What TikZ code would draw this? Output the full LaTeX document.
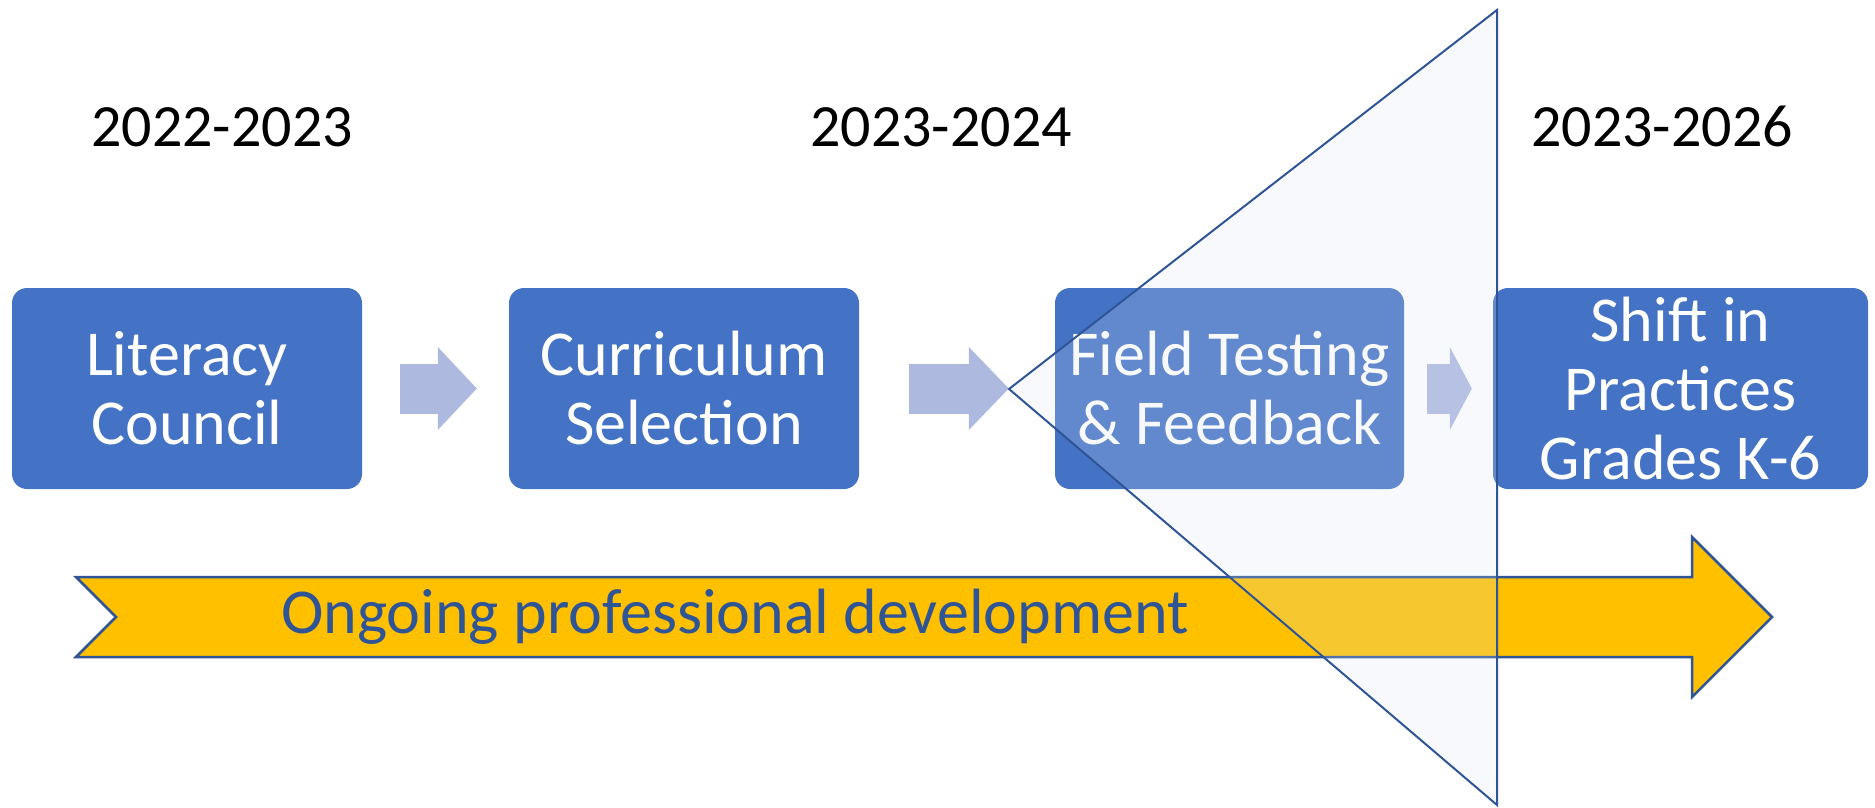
\documentclass[tikz,border=0pt]{standalone}
\usepackage{fontspec}
\setmainfont{Carlito}
\usetikzlibrary{arrows.meta}
\definecolor{boxblue}{HTML}{4472C4}
\definecolor{arrblue}{HTML}{ADB9DF}
\definecolor{edgeblue}{HTML}{2F5597}
\definecolor{gold}{HTML}{FFC000}
\definecolor{tri}{HTML}{DAE3F3}

\begin{document}
\begin{tikzpicture}[x = 1pt, y = -1pt,
    box/.style = {rectangle, rounded corners = 15pt, fill = boxblue, text = white,
        align = center, inner sep = 0pt, minimum height = 201pt,
        font = \fontsize{64}{69}\selectfont},
    yr/.style = {anchor = base, font = \fontsize{60}{66}\selectfont},
    link/.style = {arrblue, line width = 50pt}]
\useasboundingbox (0,0) rectangle (1875,808);
\draw (222,146) node[yr](y1){2022-2023}
    (941,146) node[yr](y2){2023-2024}
    (1662,146) node[yr](y3){2023-2026};
\draw (187,388.5) node[box, minimum width = 350pt](b1){Literacy\\Council}
    (684,388.5) node[box, minimum width = 350pt](b2){Curriculum\\Selection}
    (1229.5,388.5) node[box, minimum width = 349pt](b3){Field Testing\\\& Feedback}
    (1680.5,388.5) node[box, minimum width = 375pt](b4){Shift in\\Practices\\Grades K-6};
    \draw [link, shorten <= 38pt, shorten >= 32pt, -{Triangle[line width = 0pt, length = 39pt, width = 83pt]}] (b1) -- (b2);
    \draw [link, shorten <= 50pt, shorten >= 46pt, -{Triangle[line width = 0pt, length = 40pt, width = 83pt]}] (b2) -- (b3);
    \draw [link, shorten <= 23pt, shorten >= 21pt, -{Triangle[line width = 0pt, length = 22pt, width = 83pt]}] (b3) -- (b4);
\filldraw [fill = gold, draw = edgeblue, line width = 2.5pt]
    (76,577) -- (1692,577) -- (1692,537) -- (1772,617) -- (1692,697)
    -- (1692,657) -- (76,657) -- (116,617) -- cycle;
\draw (735,633) node[anchor = base, text = edgeblue, font = \fontsize{64}{70}\selectfont](pd){Ongoing professional development};
\filldraw [fill = tri, fill opacity = 0.2, draw = edgeblue, line width = 2pt]
    (1009,389) -- (1497,10) -- (1497,805) -- cycle;
\end{tikzpicture}
\end{document}
